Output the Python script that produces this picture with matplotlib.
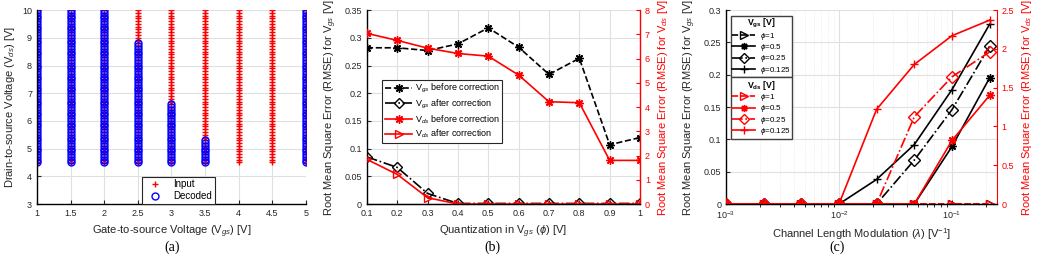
import numpy as np
import matplotlib
matplotlib.use('Agg')
import matplotlib.pyplot as plt

plt.rcParams['font.family'] = ['Liberation Sans', 'DejaVu Sans']
plt.rcParams['mathtext.fontset'] = 'custom'
plt.rcParams['mathtext.rm'] = 'Liberation Sans'
plt.rcParams['mathtext.it'] = 'Liberation Sans:italic'
plt.rcParams['mathtext.bf'] = 'Liberation Sans:bold'
plt.rcParams['font.size'] = 7

# (a) decoded points
vgs_levels = [1, 1.5, 2, 2.5, 3, 3.5, 4, 4.5, 5]
vds_min = 4.5
vds_max = 10.0
vds_step = 0.1
decoded_top = [10.0, 10.0, 10.0, 8.8, 6.6, 5.3, None, None, 10.0]

# (b) quantization sweep
phi = [0.1, 0.2, 0.3, 0.4, 0.5, 0.6, 0.7, 0.8, 0.9, 1.0]
vgs_before = [0.282, 0.282, 0.277, 0.289, 0.318, 0.283, 0.234, 0.263, 0.107, 0.120]
vgs_after = [0.085, 0.066, 0.019, 0.001, 0.001, 0.001, 0.001, 0.001, 0.001, 0.001]
vds_before = [7.04, 6.75, 6.43, 6.21, 6.10, 5.32, 4.22, 4.18, 1.80, 1.80]
vds_after = [1.84, 1.22, 0.26, 0.0, 0.0, 0.0, 0.0, 0.0, 0.0, 0.0]

# (c) channel length modulation sweep
lam = [0.001, 0.00215, 0.00464, 0.01, 0.0215, 0.0464, 0.1, 0.215]
phi_labels = ['1', '0.5', '0.25', '0.125']
gs_err = [
    [0, 0, 0, 0, 0, 0, 0, 0],
    [0, 0, 0, 0, 0, 0, 0.089, 0.195],
    [0, 0, 0, 0, 0, 0.068, 0.146, 0.244],
    [0, 0, 0, 0, 0.038, 0.092, 0.177, 0.278],
]
ds_err = [
    [0, 0, 0, 0, 0, 0, 0, 0],
    [0, 0, 0, 0, 0, 0, 0.82, 1.40],
    [0, 0, 0, 0, 0, 1.125, 1.64, 1.96],
    [0, 0, 0, 0, 1.22, 1.80, 2.17, 2.37],
]

ASTER = (8, 2, 0)
styles = [('--', '>'), ('-', ASTER), ('-.', 'D'), ('-', '+')]

fig = plt.figure(figsize=(10.41, 2.66), dpi=100)
ax_a = fig.add_axes([0.0355, 0.233, 0.2584, 0.729])
ax_b = fig.add_axes([0.3525, 0.233, 0.2623, 0.729])
ax_c = fig.add_axes([0.6974, 0.233, 0.2603, 0.729])


def style_axes(ax):
    ax.grid(True, color='#e0e0e0', linewidth=0.8)
    ax.set_axisbelow(True)
    ax.tick_params(direction='in', length=3, labelsize=6.5, colors='#262626')
    ax.spines['top'].set_visible(False)
    for s in ['left', 'bottom', 'right']:
        ax.spines[s].set_linewidth(1.0)


# ---- (a)
style_axes(ax_a)
ax_a.spines['right'].set_visible(False)
vds_grid = np.round(np.arange(vds_min, vds_max + vds_step / 2, vds_step), 2)
first = True
for v, top in zip(vgs_levels, decoded_top):
    ax_a.plot([v] * len(vds_grid), vds_grid, '+', color='red', ms=4.5, mew=1.0,
              label='Input' if first else None)
    if top is not None:
        ys = vds_grid[vds_grid <= top + 1e-9]
        ax_a.plot([v] * len(ys), ys, 'o', color='blue', mfc='none', ms=5, mew=1.0,
                  label='Decoded' if first else None)
    first = False
ax_a.set_xlim(1, 5)
ax_a.set_ylim(3, 10)
ax_a.set_xticks(vgs_levels)
ax_a.set_xticklabels(['1', '1.5', '2', '2.5', '3', '3.5', '4', '4.5', '5'])
ax_a.set_xlabel('Gate-to-source Voltage (V$_{gs}$) [V]', fontsize=8, color='#262626')
ax_a.set_ylabel('Drain-to-source Voltage (V$_{ds}$) [V]', fontsize=8, color='#262626')
leg = ax_a.legend(loc='upper left', bbox_to_anchor=(0.372, 0.165), fontsize=7,
                  frameon=True, fancybox=False, edgecolor='#262626', framealpha=1,
                  handlelength=2.2, handletextpad=0.8, borderpad=0.25, labelspacing=0.2)
leg.get_frame().set_linewidth(0.8)

# ---- (b)
style_axes(ax_b)
ax_b.spines['right'].set_visible(False)
ax_b2 = ax_b.twinx()
l1, = ax_b.plot(phi, vgs_before, '--', color='black', marker=ASTER, ms=6, mew=1.0, lw=1.2,
                label='V$_{gs}$ before correction')
l2, = ax_b.plot(phi, vgs_after, '-.', color='black', marker='D', mfc='none', ms=5, mew=1.0, lw=1.2,
                label='V$_{gs}$ after correction')
l3, = ax_b2.plot(phi, vds_before, '-', color='red', marker=ASTER, ms=6, mew=1.0, lw=1.2,
                 label='V$_{ds}$ before correction')
l4, = ax_b2.plot(phi, vds_after, '-', color='red', marker='>', mfc='none', ms=6, mew=1.0, lw=1.2,
                 label='V$_{ds}$ after correction')
ax_b.set_xlim(0.1, 1)
ax_b.set_ylim(0, 0.35)
ax_b2.set_ylim(0, 8)
ax_b.set_xticks(phi)
ax_b.set_xticklabels(['0.1', '0.2', '0.3', '0.4', '0.5', '0.6', '0.7', '0.8', '0.9', '1'])
ax_b.set_yticks(np.arange(0, 0.351, 0.05))
ax_b.set_yticklabels(['0', '0.05', '0.1', '0.15', '0.2', '0.25', '0.3', '0.35'])
ax_b2.spines['top'].set_visible(False)
ax_b2.spines['left'].set_visible(False)
ax_b2.spines['right'].set_color('red')
ax_b2.spines['right'].set_linewidth(1.0)
ax_b2.tick_params(direction='in', length=3, labelsize=6.5, colors='red')
ax_b.set_xlabel('Quantization in V$_{gs}$ ($\\phi$) [V]', fontsize=8, color='#262626')
ax_b.set_ylabel('Root Mean Square Error (RMSE) for V$_{gs}$ [V]', fontsize=8, color='#262626')
ax_b2.set_ylabel('Root Mean Square Error (RMSE) for V$_{ds}$ [V]', fontsize=8, color='red')
leg = ax_b2.legend(handles=[l1, l2, l3, l4], loc='upper left', bbox_to_anchor=(0.04, 0.665),
                   fontsize=6.5, frameon=True, fancybox=False, edgecolor='#262626', framealpha=1,
                   handlelength=3.0, handletextpad=0.3, borderpad=0.3, labelspacing=0.25)
leg.get_frame().set_linewidth(0.8)

# ---- (c)
style_axes(ax_c)
ax_c.spines['right'].set_visible(False)
ax_c.set_xscale('log')
ax_c.grid(True, which='minor', axis='x', color='#e6e6e6', linewidth=0.6, linestyle=':')
ax_c2 = ax_c.twinx()
gs_handles = []
ds_handles = []
for (ls, mk), lab, gs, ds in zip(styles, phi_labels, gs_err, ds_err):
    mfc = 'none' if mk in ('>', 'D') else None
    h, = ax_c.plot(lam, gs, ls, color='black', marker=mk, mfc=mfc, ms=6, mew=1.0, lw=1.2,
                   label='$\\phi$=' + lab)
    gs_handles.append(h)
    h2, = ax_c2.plot(lam, ds, ls, color='red', marker=mk, mfc=mfc, ms=6, mew=1.0, lw=1.2,
                     label='$\\phi$=' + lab)
    ds_handles.append(h2)
ax_c.set_xlim(1e-3, 0.25)
ax_c.set_ylim(0, 0.3)
ax_c2.set_ylim(0, 2.5)
ax_c.set_xticks([1e-3, 1e-2, 1e-1])
ax_c.set_yticks(np.arange(0, 0.301, 0.05))
ax_c.set_yticklabels(['0', '0.05', '0.1', '0.15', '0.2', '0.25', '0.3'])
ax_c2.set_yticks([0, 0.5, 1, 1.5, 2, 2.5])
ax_c2.set_yticklabels(['0', '0.5', '1', '1.5', '2', '2.5'])
ax_c2.spines['top'].set_visible(False)
ax_c2.spines['left'].set_visible(False)
ax_c2.spines['right'].set_color('red')
ax_c2.tick_params(direction='in', length=3, labelsize=6.5, colors='red')
ax_c.set_xlabel('Channel Length Modulation ($\\lambda$) [V$^{-1}$]', fontsize=8, color='#262626')
ax_c.set_ylabel('Root Mean Square Error (RMSE) for V$_{gs}$ [V]', fontsize=8, color='#262626')
ax_c2.set_ylabel('Root Mean Square Error (RMSE) for V$_{ds}$ [V]', fontsize=8, color='red')

leg_kw = dict(loc='upper left', fontsize=5.8, title_fontsize=6.3, frameon=True, fancybox=False,
              edgecolor='#404040', framealpha=1, handlelength=2.8, handletextpad=0.6,
              borderpad=0.2, labelspacing=0.05, markerscale=0.85, borderaxespad=0.0)
leg1 = ax_c2.legend(handles=gs_handles, title='$\\mathbf{V_{gs}}$ [V]',
                    bbox_to_anchor=(0.018, 0.972), **leg_kw)
leg1.get_title().set_fontweight('bold')
leg1.get_frame().set_linewidth(1.0)
ax_c2.add_artist(leg1)
leg2 = ax_c2.legend(handles=ds_handles, title='$\\mathbf{V_{ds}}$ [V]',
                    bbox_to_anchor=(0.018, 0.655), **leg_kw)
leg2.get_title().set_fontweight('bold')
leg2.get_frame().set_linewidth(1.0)

# captions
for x, t in [(0.165, '(a)'), (0.473, '(b)'), (0.804, '(c)')]:
    fig.text(x, 0.07, t, ha='center', va='center', fontsize=10, family='Liberation Serif')

fig.savefig('out.png', dpi=100)
